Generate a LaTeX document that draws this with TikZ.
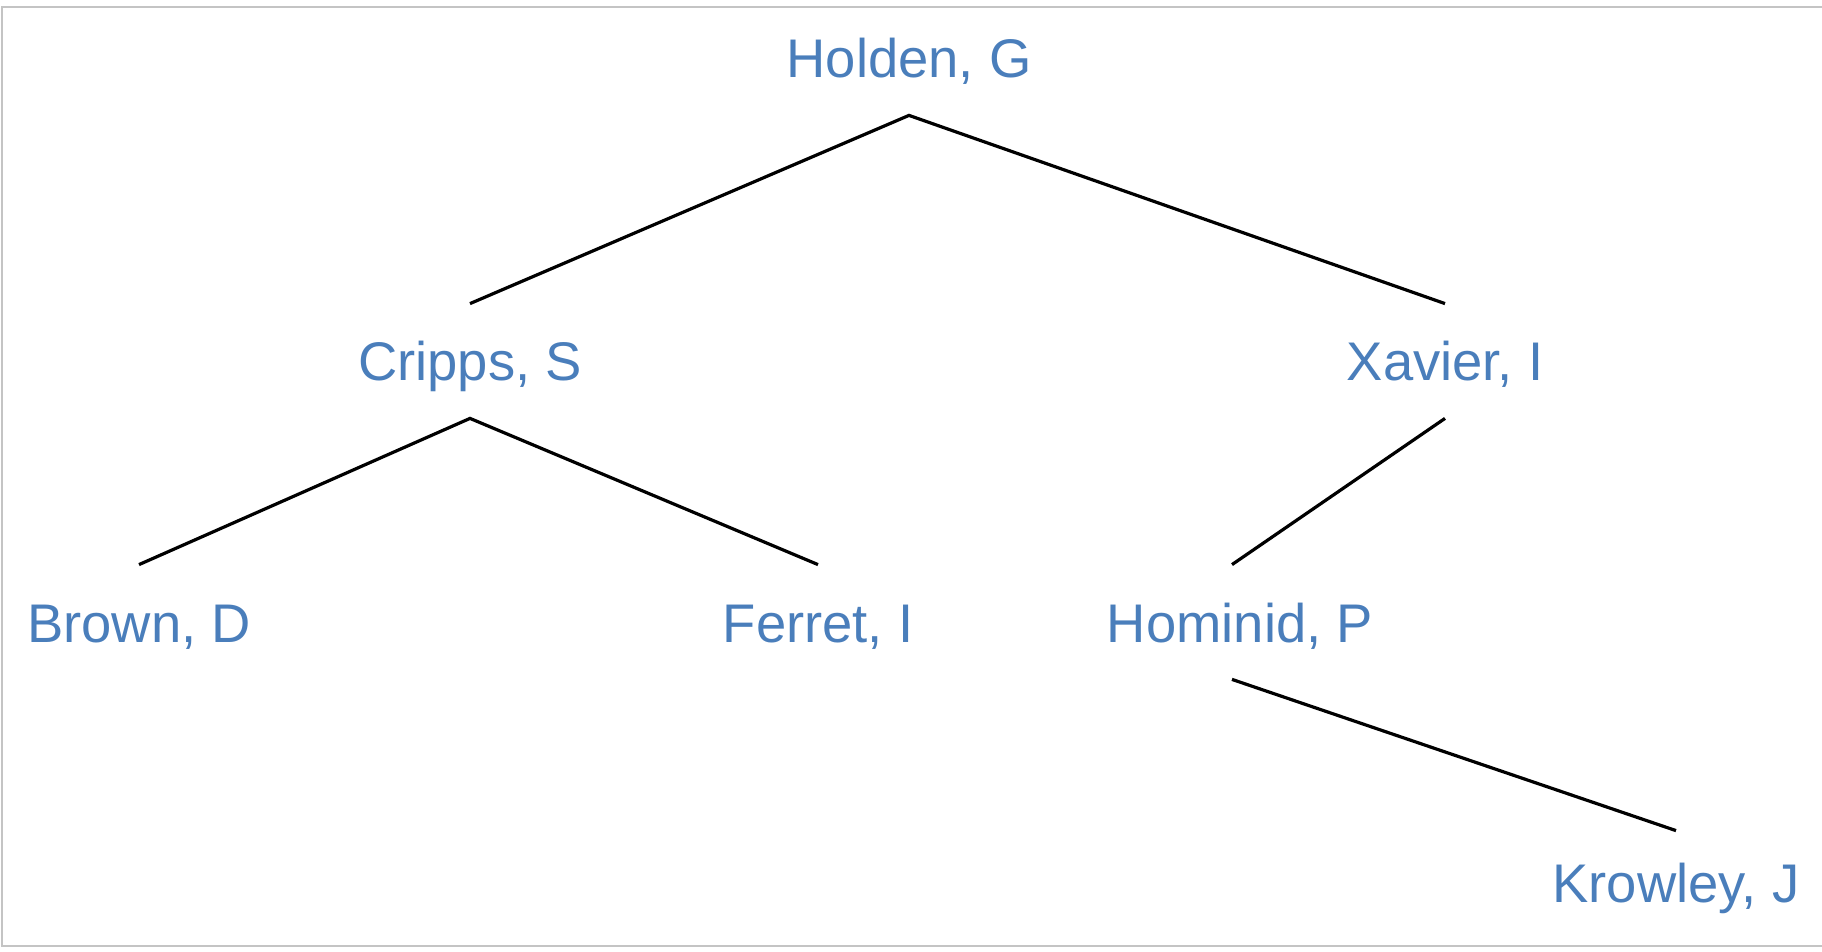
\documentclass[tikz,border=0pt]{standalone}
\usepackage{fontspec}
\setmainfont{Liberation Sans}
\definecolor{namecol}{HTML}{4A7EBB}
\definecolor{framecol}{HTML}{C4C4C4}

\begin{document}
\begin{tikzpicture}[x=0.5pt,y=-0.5pt,
  every node/.style={font=\fontsize{27.2}{30}\selectfont,text=namecol,inner sep=0pt,
    text height=38.5pt,text depth=18.5pt,anchor=base},
  branch/.style={line width=1.6pt,black}]
  \useasboundingbox (0,0) rectangle (1822,952);
  \draw[framecol,line width=1.2pt] (1822,7) -- (2,7) -- (2,946) -- (1822,946);
  \node (H) at (909,78) {Holden, G};
  \node (C) at (470,381) {Cripps, S};
  \node (X) at (1445,381) {Xavier, I};
  \node (B) at (139,642) {Brown, D};
  \node (F) at (818,642) {Ferret, I};
  \node (P) at (1240,642) {Hominid, P};
  \node[text height=35.5pt] (K) at (1676,902) {Krowley, J};
  \draw[branch] (C.north) -- (H.south) -- (X.north);
  \draw[branch] (B.north) -- (C.south) -- (F.north);
  \draw[branch] (X.south) -- ([xshift=-4pt]P.north);
  \draw[branch] ([xshift=-4pt]P.south) -- (K.north);
\end{tikzpicture}
\end{document}
